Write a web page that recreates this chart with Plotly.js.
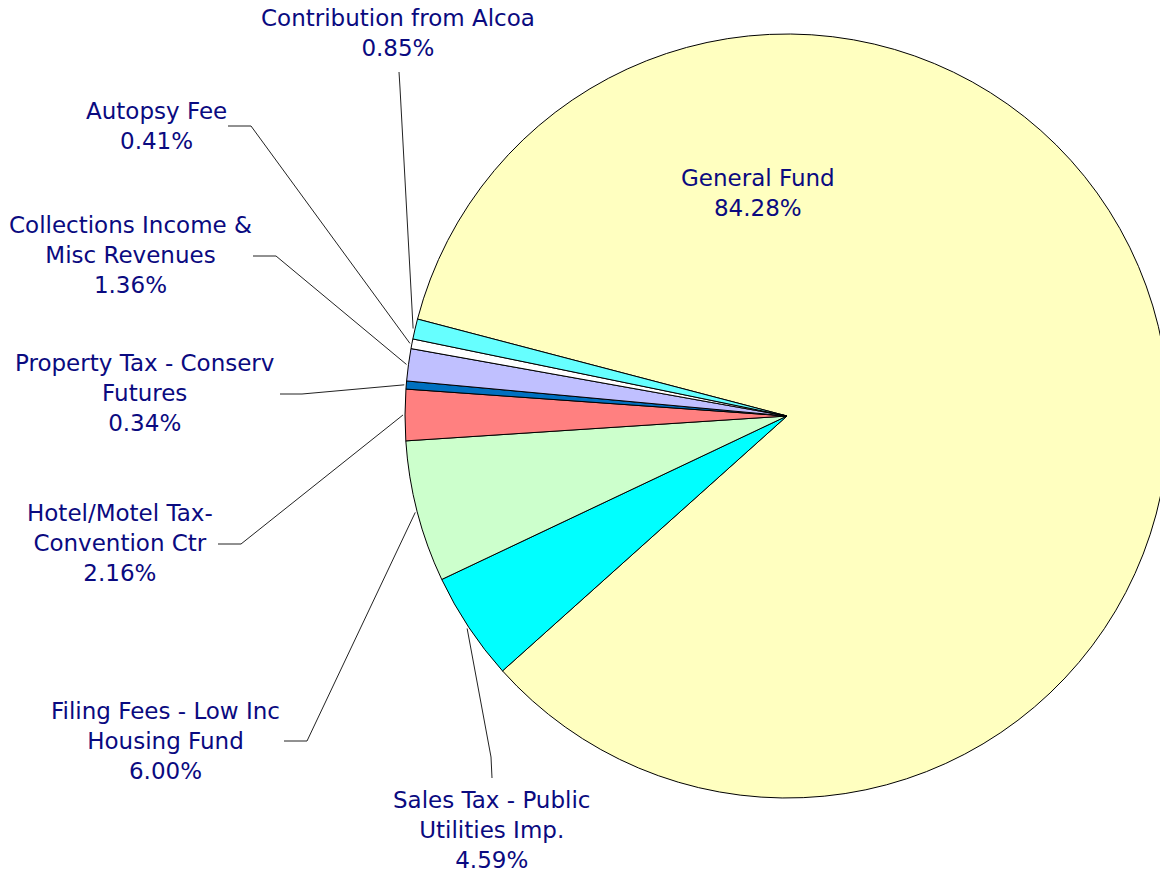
<!DOCTYPE html>
<html>
<head>
<meta charset="utf-8">
<script src="https://cdn.plot.ly/plotly-3.0.1.min.js"></script>
<style>
html, body { margin: 0; padding: 0; overflow: hidden; background: #ffffff; width: 1160px; height: 873px; }
#chart { width: 1200px; height: 873px; }
</style>
</head>
<body>
<div id="chart"></div>
<script>
// ---- data ----
const categories = [
  "General Fund",
  "Sales Tax - Public Utilities Imp.",
  "Filing Fees - Low Inc Housing Fund",
  "Hotel/Motel Tax-Convention Ctr",
  "Property Tax - Conserv Futures",
  "Collections Income & Misc Revenues",
  "Autopsy Fee",
  "Contribution from Alcoa"
];
const values = [84.28, 4.59, 6.00, 2.16, 0.34, 1.36, 0.41, 0.85];
const labelLines = [
  ["General Fund"],
  ["Sales Tax - Public", "Utilities Imp."],
  ["Filing Fees - Low Inc", "Housing Fund"],
  ["Hotel/Motel Tax-", "Convention Ctr"],
  ["Property Tax - Conserv", "Futures"],
  ["Collections Income &", "Misc Revenues"],
  ["Autopsy Fee"],
  ["Contribution from Alcoa"]
];

// ---- styles / layout ----
const colors = ["#FFFFC0", "#00FFFF", "#CCFFCC", "#FF8080", "#0070C0", "#C0C0FF", "#FFFFFF", "#66FFFF"];
const W = 1200, H = 873;
const cx = 787, cy = 416, r = 382;
const rotationDeg = -75.3;
// label centre positions (pixels) and leader-line elbow points (pixels)
const labelPos = [[758, 193], [491, 830], [165, 741], [120, 543], [144, 393], [130, 255], [156, 126], [398, 33]];
const leaderStart = [null, [492, 778], [284, 741], [218, 544], [280, 394], [253, 256], [228, 126], [399, 72]];
const leaderElbow = [null, [491, 757], [307, 741], [241, 544], [302, 394], [276, 256], [251, 126], [400, 88]];

const px = x => x / W;
const py = y => 1 - y / H;

const total = values.reduce((a, b) => a + b, 0);
let cum = 0;
const annotations = [];
const shapes = [];
values.forEach((v, i) => {
  const midFrac = (cum + v / 2) / total;
  cum += v;
  const a = rotationDeg * Math.PI / 180 + 2 * Math.PI * midFrac;
  const ex = cx + (r + 2) * Math.sin(a);
  const ey = cy - (r + 2) * Math.cos(a);
  const txt = labelLines[i].join("<br>") + "<br>" + v.toFixed(2) + "%";
  annotations.push({
    x: px(labelPos[i][0]), y: py(labelPos[i][1]), xref: "paper", yref: "paper",
    xanchor: "center", yanchor: "middle", align: "center", showarrow: false,
    text: txt, font: { family: "DejaVu Sans", size: 23, color: "#0a0a80" }
  });
  if (leaderStart[i]) {
    const s = leaderStart[i], e = leaderElbow[i];
    shapes.push({
      type: "path", xref: "paper", yref: "paper",
      path: `M ${px(s[0])} ${py(s[1])} L ${px(e[0])} ${py(e[1])} L ${px(ex)} ${py(ey)}`,
      line: { color: "#222222", width: 1 }
    });
  }
});

const trace = {
  type: "pie",
  labels: categories,
  values: values,
  sort: false,
  direction: "clockwise",
  rotation: rotationDeg,
  textinfo: "none",
  hoverinfo: "label+percent",
  marker: { colors: colors, line: { color: "#000000", width: 1 } },
  domain: { x: [(cx - r) / W, (cx + r) / W], y: [1 - (cy + r) / H, 1 - (cy - r) / H] },
  showlegend: false
};

const layout = {
  width: W, height: H,
  margin: { l: 0, r: 0, t: 0, b: 0, pad: 0 },
  paper_bgcolor: "#ffffff",
  plot_bgcolor: "#ffffff",
  showlegend: false,
  annotations: annotations,
  shapes: shapes
};

Plotly.newPlot("chart", [trace], layout, { displayModeBar: false, staticPlot: true });
</script>
</body>
</html>
